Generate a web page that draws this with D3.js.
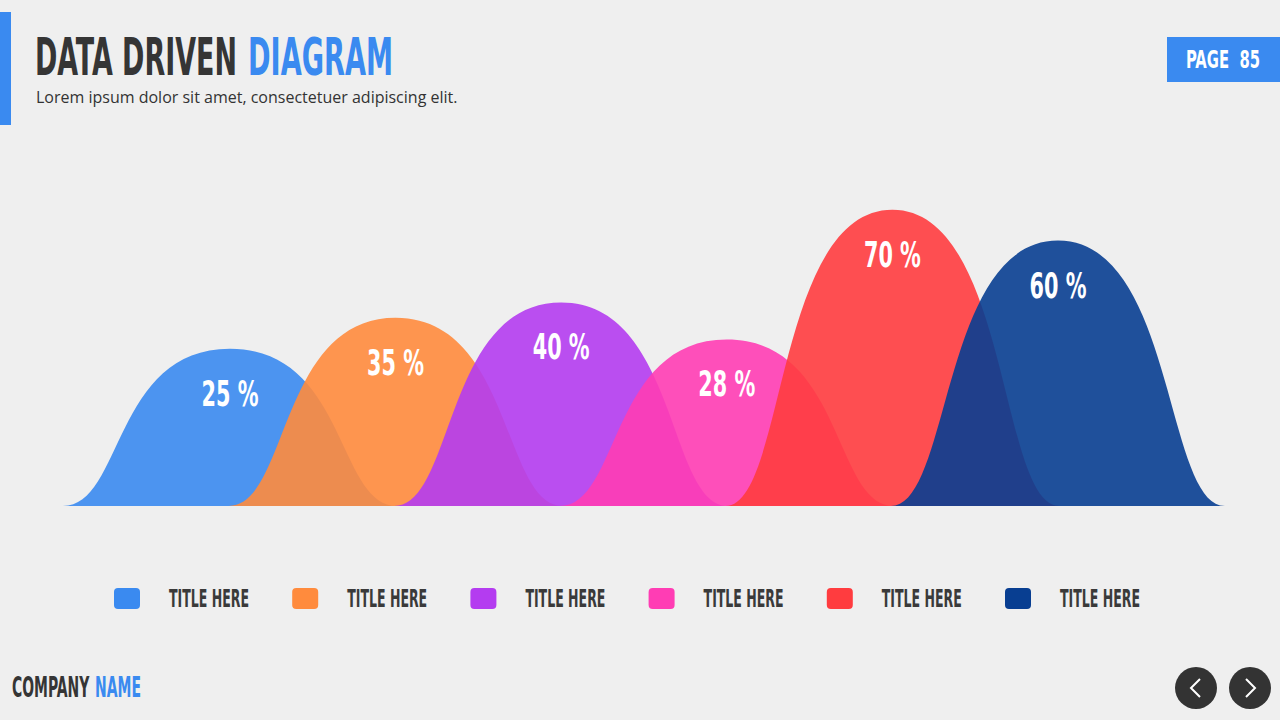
<!DOCTYPE html>
<meta charset="utf-8">
<style>
body{
	margin:0;
	background:#efefef;
}
svg{
	display:block;
	font-family:"Liberation Sans Narrow","DejaVu Sans Condensed","Roboto",sans-serif;
}
.cond{
	font-weight:bold;
}
.sub{
	font-family:"Open Sans","Noto Sans",sans-serif;
	font-size:16px;
	fill:#333;
}
.perc{
	fill:#fff;
	font-size:36px;
	text-anchor:middle;
}
.legtext{
	fill:#3a3a3a;
	font-size:25px;
}
</style>
<body>
<script src="https://d3js.org/d3.v7.min.js"></script>
<script>

// chart data
var titles = ["TITLE HERE","TITLE HERE","TITLE HERE","TITLE HERE","TITLE HERE","TITLE HERE"];
var values = [25, 35, 40, 28, 70, 60];
var colors = ["#3a8af0", "#ff8b3d", "#b43cf0", "#ff3db4", "#ff3c3f", "#083e91"];

var W = 1280, H = 720;
var base = 506, halfW = 167;

var svg = d3.select("body").append("svg").attr("width", W).attr("height", H);

svg.append("rect").attr("width", W).attr("height", H).attr("fill", "#efefef");

// squeeze a text horizontally to a given width (the original uses a condensed font)
function fit(t, w){
	var n = t.node();
	var bw = n.getBBox().width;
	var x = +t.attr("x"), y = +t.attr("y");
	t.attr("x",0).attr("y",0)
		.attr("transform","translate(" + x + "," + y + ") scale(" + (w/bw) + ",1)");
	return t;
}

// header
svg.append("rect").attr("x",0).attr("y",12).attr("width",11).attr("height",113).attr("fill","#3a8af0");
fit(svg.append("text").attr("class","cond").attr("x",35).attr("y",75)
	.attr("font-size",51).attr("fill","#353535").text("DATA DRIVEN"), 202);
fit(svg.append("text").attr("class","cond").attr("x",248).attr("y",75)
	.attr("font-size",51).attr("fill","#3a8af0").text("DIAGRAM"), 145);
svg.append("text").attr("class","sub").attr("x",36).attr("y",103)
	.text("Lorem ipsum dolor sit amet, consectetuer adipiscing elit.");

svg.append("rect").attr("x",1167).attr("y",37).attr("width",113).attr("height",45).attr("fill","#3a8af0");
fit(svg.append("text").attr("class","cond").attr("x",1223).attr("y",68)
	.attr("font-size",25).attr("fill","#fff").attr("text-anchor","middle")
	.text("PAGE\u00a0\u00a085"), 74);

// scales
var x = d3.scalePoint().domain(d3.range(values.length)).range([230, 1058]);
var y = d3.scaleLinear().domain([0, 100]).range([426, 117]);

function hump(i){
	var cx = x(i), top = y(values[i]);
	var x0 = cx - halfW, x1 = cx + halfW;
	var p = d3.path();
	p.moveTo(x0, base);
	p.bezierCurveTo(x0 + halfW*0.36, base, x0 + halfW*0.3, top, cx, top);
	p.bezierCurveTo(x1 - halfW*0.3, top, x1 - halfW*0.36, base, x1, base);
	p.closePath();
	return p.toString();
}

var g = svg.append("g");
g.selectAll("path").data(values).join("path")
	.attr("d", (d,i)=>hump(i))
	.attr("fill", (d,i)=>colors[i])
	.attr("fill-opacity", 0.9);

g.selectAll(".perc").data(values).join("text")
	.attr("class","perc cond")
	.attr("x", (d,i)=>x(i))
	.attr("y", d=>y(d) + 57)
	.text(d=>d + "\u00a0%")
	.each(function(){ fit(d3.select(this), 57); });

// legend
var lx = d3.scalePoint().domain(d3.range(titles.length)).range([114, 1005]);
var leg = svg.append("g").selectAll("g").data(titles).join("g")
	.attr("transform", (d,i)=>"translate(" + lx(i) + ",588)");
leg.append("rect").attr("width",26).attr("height",21).attr("rx",4)
	.attr("fill", (d,i)=>colors[i]);
leg.append("text").attr("class","legtext cond").attr("x",55).attr("y",19)
	.text(d=>d)
	.each(function(){ fit(d3.select(this), 80); });

// footer
fit(svg.append("text").attr("class","cond").attr("x",12).attr("y",697)
	.attr("font-size",29).attr("fill","#353535").text("COMPANY"), 78);
fit(svg.append("text").attr("class","cond").attr("x",95).attr("y",697)
	.attr("font-size",29).attr("fill","#3a8af0").text("NAME"), 46);

[[1196,-1],[1250,1]].forEach(function(b){
	svg.append("circle").attr("cx",b[0]).attr("cy",688).attr("r",21).attr("fill","#333");
	var s = b[1];
	svg.append("path")
		.attr("d", d3.line()([[b[0]-4*s,679],[b[0]+5*s,688],[b[0]-4*s,697]]))
		.attr("fill","none").attr("stroke","#fff").attr("stroke-width",2);
});

</script>
</body>
